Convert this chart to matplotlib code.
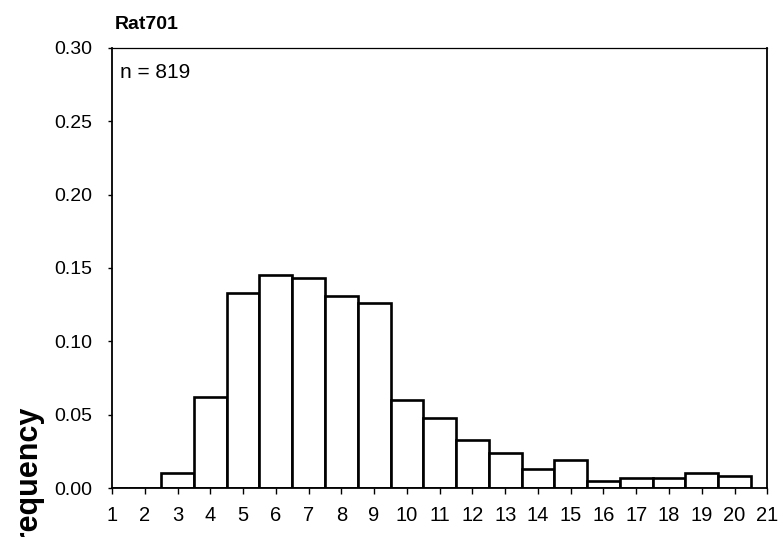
import numpy as np
import matplotlib
matplotlib.use("Agg")
import matplotlib.pyplot as plt

plt.rcParams['font.family'] = ['Liberation Sans', 'DejaVu Sans']

# bin (category) and relative frequency
bins = list(range(1, 21))
freq = [0.0, 0.0, 0.010, 0.062, 0.133, 0.145, 0.143, 0.131, 0.126, 0.060,
        0.048, 0.033, 0.024, 0.013, 0.019, 0.005, 0.007, 0.007, 0.010, 0.008]
xticks = list(range(1, 22))
yticks = [0.00, 0.05, 0.10, 0.15, 0.20, 0.25, 0.30]
title = "Rat701"
note = "n = 819"

fig = plt.figure(figsize=(7.83, 5.37), dpi=100)
ax = fig.add_axes([0.143, 0.091, 0.837, 0.820])

ax.bar(bins, freq, width=1.0, align='center', facecolor='white',
       edgecolor='black', linewidth=1.9, zorder=2)

ax.set_xlim(1, 21)
ax.set_ylim(0, 0.30)
ax.set_xticks(xticks)
ax.set_xticklabels([str(t) for t in xticks])
ax.set_yticks(yticks)
ax.set_yticklabels(["%.2f" % t for t in yticks])
ax.tick_params(axis='x', direction='out', length=4, width=1, pad=9, labelsize=14.5)
ax.tick_params(axis='y', direction='out', length=3, width=1, pad=11, labelsize=14)

for side in ['left', 'bottom', 'right']:
    ax.spines[side].set_linewidth(1.3)
ax.spines['top'].set_linewidth(0.9)

ax.text(0.012, 0.965, note, transform=ax.transAxes, fontsize=15,
        ha='left', va='top')
fig.text(0.146, 0.955, title, fontsize=14, fontweight='bold',
         ha='left', va='center')
# the reference has this label running off the bottom edge
fig.text(0.036, 0.100, "Frequency", fontsize=22, fontweight='bold',
         rotation=90, ha='center', va='center')

fig.savefig("out.png", dpi=100)
